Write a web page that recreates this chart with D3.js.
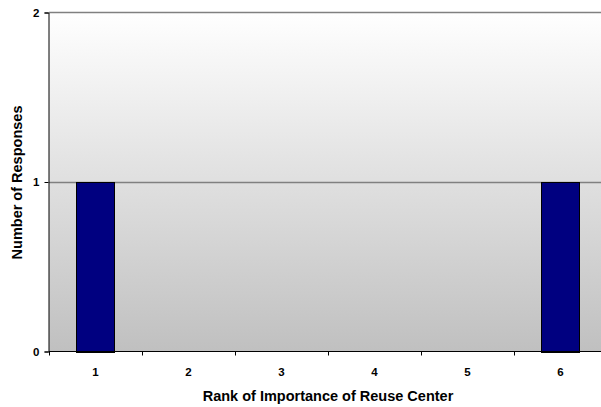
<!DOCTYPE html>
<html>
<head>
<meta charset="utf-8">
<script src="https://cdn.jsdelivr.net/npm/d3@7"></script>
<style>
  body { margin: 0; background: #fff; }
  text { font-family: "Liberation Sans", Arial, sans-serif; font-weight: bold; }
</style>
</head>
<body>
<div id="chart"></div>
<script>
// data
var categories = ['1', '2', '3', '4', '5', '6'];
var responses = [1, 0, 0, 0, 0, 1];
var yTicks = [0, 1, 2];

var width = 601, height = 407;
// plot area runs past the right edge, as in the original
var plotLeft = 49, plotTop = 12, plotW = 558, plotH = 339;

var svg = d3.select('#chart').append('svg')
  .attr('width', width)
  .attr('height', height);

var x = d3.scaleBand().domain(categories).range([plotLeft, plotLeft + plotW]).paddingInner(0.59).paddingOuter(0.295);
var band = d3.scaleBand().domain(categories).range([plotLeft, plotLeft + plotW]);
var y = d3.scaleLinear().domain([0, 2]).range([plotTop + plotH, plotTop]);

// background gradient
var grad = svg.append('defs').append('linearGradient')
  .attr('id', 'bg').attr('x1', 0).attr('y1', 0).attr('x2', 0).attr('y2', 1);
grad.append('stop').attr('offset', '0%').attr('stop-color', '#ffffff');
grad.append('stop').attr('offset', '100%').attr('stop-color', '#c0c0c0');

svg.append('rect')
  .attr('x', plotLeft).attr('y', plotTop)
  .attr('width', plotW).attr('height', plotH)
  .attr('fill', 'url(#bg)');

// gridlines
svg.selectAll('.grid')
  .data(yTicks.filter(function (d) { return d > 0; }))
  .enter().append('line')
  .attr('x1', plotLeft).attr('x2', plotLeft + plotW)
  .attr('y1', function (d) { return Math.round(y(d)) + 0.5; })
  .attr('y2', function (d) { return Math.round(y(d)) + 0.5; })
  .attr('stroke', '#808080').attr('stroke-width', 1.5);

// bars (only the non-zero ones are visible)
svg.selectAll('.bar')
  .data(responses.map(function (v, i) { return { cat: categories[i], value: v }; })
    .filter(function (d) { return d.value > 0; }))
  .enter().append('rect')
  .attr('x', function (d) { return Math.round(x(d.cat)) + 0.5; })
  .attr('y', function (d) { return Math.round(y(d.value)) + 0.5; })
  .attr('width', Math.round(x.bandwidth()))
  .attr('height', function (d) { return Math.round(y(0) - y(d.value)); })
  .attr('fill', '#000080')
  .attr('stroke', '#000');

// y axis
var yAxis = svg.append('g')
  .attr('transform', 'translate(' + (plotLeft - 0.5) + ',0.5)')
  .call(d3.axisLeft(y).tickValues(yTicks).tickFormat(d3.format('d')).tickSize(4).tickPadding(5));
yAxis.select('.domain').attr('stroke', '#000');
yAxis.selectAll('.tick line').attr('stroke', '#000');
yAxis.selectAll('text').attr('font-size', 11.5).attr('fill', '#000')
  .style('font-family', '"Liberation Sans", Arial, sans-serif').style('font-weight', 'bold');

// x axis: ticks on band boundaries
var xAxis = svg.append('g')
  .attr('transform', 'translate(0,' + (plotTop + plotH + 0.5) + ')');
xAxis.append('line')
  .attr('x1', plotLeft).attr('x2', plotLeft + plotW)
  .attr('stroke', '#000');
xAxis.selectAll('.tick')
  .data(categories)
  .enter().append('line')
  .attr('x1', function (d) { return Math.round(band(d)) + 0.5; })
  .attr('x2', function (d) { return Math.round(band(d)) + 0.5; })
  .attr('y1', 0).attr('y2', 4)
  .attr('stroke', '#000');
xAxis.selectAll('.lbl')
  .data(categories)
  .enter().append('text')
  .attr('x', function (d) { return band(d) + band.bandwidth() / 2; })
  .attr('y', 24)
  .attr('text-anchor', 'middle')
  .attr('font-size', 11.5)
  .text(function (d) { return d; });

// axis titles
svg.append('text')
  .attr('x', plotLeft + plotW / 2)
  .attr('y', 401)
  .attr('text-anchor', 'middle')
  .attr('font-size', 14.5)
  .text('Rank of Importance of Reuse Center');

svg.append('text')
  .attr('transform', 'translate(22,' + (plotTop + plotH / 2 + 1) + ') rotate(-90)')
  .attr('text-anchor', 'middle')
  .attr('font-size', 14.5)
  .text('Number of Responses');
</script>
</body>
</html>
